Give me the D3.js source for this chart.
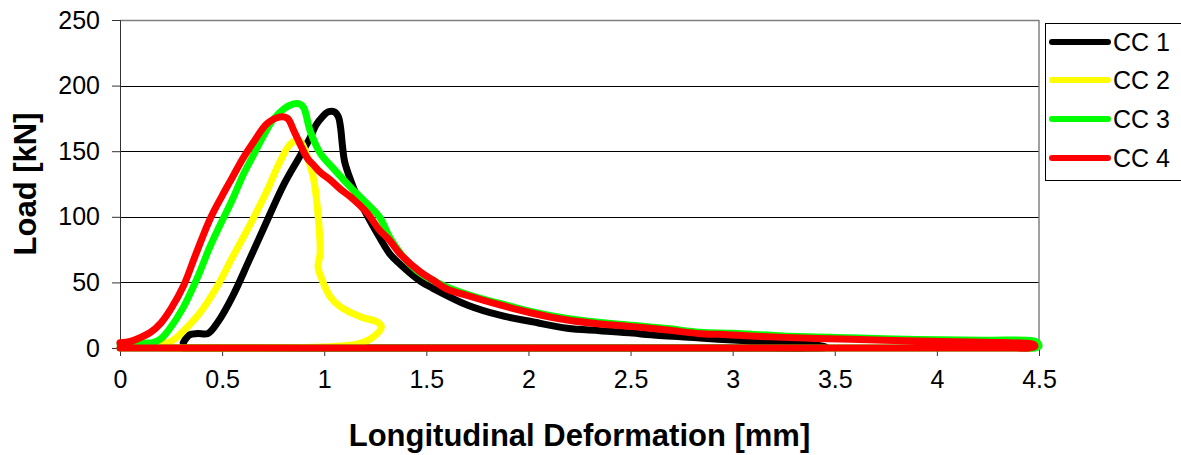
<!DOCTYPE html>
<html>
<head>
<meta charset="utf-8">
<script src="https://cdn.jsdelivr.net/npm/d3@7"></script>
<style>
  html, body { margin: 0; padding: 0; background: #fff; }
  svg { display: block; font-family: Arial, "Liberation Sans", sans-serif; }
</style>
</head>
<body>
<svg id="chart" width="1181" height="455"></svg>
<script>
// Specimen names and line colours
const seriesNames = ["CC 1", "CC 2", "CC 3", "CC 4"];
const seriesColors = ["#000000", "#ffff00", "#00ff00", "#ff0000"];

// Axis ticks
const xTicks = [0, 0.5, 1, 1.5, 2, 2.5, 3, 3.5, 4, 4.5];
const yTicks = [0, 50, 100, 150, 200, 250];

// CC 1: longitudinal deformation [mm] and load [kN]
const cc1Def = [0.31, 0.34, 0.38, 0.43, 0.48, 0.55, 0.63, 0.72, 0.80, 0.88, 0.93, 0.96, 0.99, 1.02, 1.05, 1.07, 1.08, 1.09, 1.10, 1.12, 1.16, 1.20, 1.25, 1.32, 1.37, 1.47, 1.53, 1.70, 1.86, 2.02, 2.19, 2.35, 2.51, 2.60, 2.84, 3.00, 3.20, 3.33, 3.42, 3.46, 3.40, 3.00, 2.00, 1.00, 0.40, 0.31];
const cc1Load = [4, 10, 11, 11, 20, 39, 66, 97, 124, 146, 160, 170, 176, 180, 180, 176, 168, 153, 142, 132, 116, 104, 90, 72, 64, 51, 45.7, 32.8, 25, 20, 15, 13.2, 11.4, 10, 7.6, 6, 4.5, 3.5, 2, 0.5, 0, 0, 0, 0, 0, 0];

// CC 2
const cc2Def = [0.21, 0.25, 0.28, 0.33, 0.39, 0.475, 0.55, 0.64, 0.72, 0.78, 0.83, 0.868, 0.89, 0.917, 0.946, 0.966, 0.98, 0.97, 0.99, 1.03, 1.08, 1.18, 1.26, 1.28, 1.24, 1.18, 1.08, 0.95, 0.60, 0.25, 0.21];
const cc2Load = [3, 5, 8.4, 16, 26.5, 46.7, 69, 95, 120, 141, 154.7, 158.5, 156, 145.7, 130.5, 107.6, 72.4, 61.7, 51.8, 38.9, 31.3, 23.6, 19.8, 16, 8.4, 3.8, 1.5, 0.5, 0, 0, 0];

// CC 3
const cc3Def = [0.00, 0.08, 0.16, 0.20, 0.24, 0.31, 0.38, 0.44, 0.50, 0.55, 0.60, 0.65, 0.70, 0.75, 0.80, 0.85, 0.88, 0.90, 0.93, 0.98, 1.05, 1.12, 1.19, 1.27, 1.32, 1.39, 1.47, 1.60, 1.76, 1.86, 2.02, 2.19, 2.35, 2.51, 2.68, 2.84, 3.00, 3.25, 3.58, 3.90, 4.23, 4.46, 4.49, 4.50, 4.48, 4.40, 3.00, 1.50, 0.05, 0.00];
const cc3Load = [3, 4, 4, 7, 14, 31, 54, 77, 97, 113, 131, 146, 161, 174, 182, 186, 186, 183, 166, 148.6, 136, 124, 113, 100, 84.6, 69, 57, 46.5, 38, 34, 27.5, 22.5, 19.5, 17.3, 14.8, 12, 11.2, 9.2, 7.8, 6.5, 5.9, 5.8, 4.5, 1.5, 0, 0, 0, 0, 0, 0];

// CC 4
const cc4Def = [0.00, 0.05, 0.10, 0.15, 0.20, 0.25, 0.31, 0.37, 0.44, 0.50, 0.55, 0.60, 0.65, 0.72, 0.78, 0.82, 0.85, 0.88, 0.92, 0.95, 0.98, 1.03, 1.08, 1.13, 1.21, 1.27, 1.32, 1.37, 1.47, 1.53, 1.60, 1.70, 1.86, 2.02, 2.19, 2.35, 2.51, 2.68, 2.84, 2.93, 3.25, 3.58, 3.90, 4.23, 4.43, 4.47, 4.48, 4.45, 4.38, 3.00, 1.50, 0.05, 0.00];
const cc4Load = [4, 5, 8, 12, 19, 30, 47, 71, 98, 116, 130, 144, 156, 171, 176, 175, 166, 156, 144, 139, 134, 128, 121, 115, 103, 90, 82, 72, 58, 52, 45, 40, 32.8, 26.5, 21.3, 18.3, 16.3, 13.7, 10.9, 10.4, 8.1, 6.6, 5.3, 4.3, 3.7, 3, 1.2, 0, 0, 0, 0, 0, 0];

const seriesDef = [cc1Def, cc2Def, cc3Def, cc4Def];
const seriesLoad = [cc1Load, cc2Load, cc3Load, cc4Load];

const svg = d3.select("#chart");
const margin = { left: 120, top: 20, right: 1039, bottom: 348 };

const x = d3.scaleLinear().domain([0, 4.5]).range([margin.left, margin.right]);
const y = d3.scaleLinear().domain([0, 250]).range([margin.bottom, margin.top]);

// Horizontal gridlines
svg.append("g")
  .selectAll("line")
  .data(yTicks.filter(d => d > 0 && d < 250))
  .join("line")
  .attr("x1", x(0)).attr("x2", x(4.5))
  .attr("y1", d => Math.round(y(d)) + 0.5).attr("y2", d => Math.round(y(d)) + 0.5)
  .attr("stroke", "#000").attr("stroke-width", 1);

// Plot frame: top and right edges
svg.append("line")
  .attr("x1", x(0)).attr("x2", x(4.5)).attr("y1", y(250) + 0.5).attr("y2", y(250) + 0.5)
  .attr("stroke", "#808080").attr("stroke-width", 1.5);
svg.append("line")
  .attr("x1", x(4.5)).attr("x2", x(4.5)).attr("y1", y(250)).attr("y2", y(0))
  .attr("stroke", "#808080").attr("stroke-width", 1.5);

// Y axis
const yAxis = d3.axisLeft(y).tickValues(yTicks).tickSize(8).tickPadding(12).tickFormat(d3.format("d"));
const gy = svg.append("g").attr("transform", `translate(${x(0)},0)`).call(yAxis);
gy.select(".domain").attr("stroke", "#333");
gy.selectAll(".tick line").attr("stroke", "#333");
gy.selectAll(".tick text").attr("font-size", 25).attr("fill", "#000")
  .attr("font-family", "Arial, 'Liberation Sans', sans-serif");

// X axis
const xAxis = d3.axisBottom(x).tickValues(xTicks).tickSize(8).tickPadding(14).tickFormat(d => String(d));
const gx = svg.append("g").attr("transform", `translate(0,${y(0)})`).call(xAxis);
gx.select(".domain").attr("stroke", "#333");
gx.selectAll(".tick line").attr("stroke", "#333");
gx.selectAll(".tick text").attr("font-size", 25).attr("fill", "#000")
  .attr("font-family", "Arial, 'Liberation Sans', sans-serif");

// Load-deformation curves
const line = d3.line()
  .x(d => x(d[0]))
  .y(d => y(d[1]))
  .curve(d3.curveCatmullRom.alpha(0.5));

seriesNames.forEach((name, i) => {
  const pts = seriesDef[i].map((v, k) => [v, seriesLoad[i][k]]);
  svg.append("path")
    .datum(pts)
    .attr("d", line)
    .attr("fill", "none")
    .attr("stroke", seriesColors[i])
    .attr("stroke-width", 7)
    .attr("stroke-linejoin", "round")
    .attr("stroke-linecap", "round");
});

// Axis titles
svg.append("text")
  .attr("x", (x(0) + x(4.5)) / 2).attr("y", 446)
  .attr("text-anchor", "middle")
  .attr("font-size", 31).attr("font-weight", "bold")
  .text("Longitudinal Deformation [mm]");

svg.append("text")
  .attr("transform", `translate(36,${(y(0) + y(250)) / 2}) rotate(-90)`)
  .attr("text-anchor", "middle")
  .attr("font-size", 31).attr("font-weight", "bold")
  .text("Load [kN]");

// Legend
const legend = svg.append("g");
legend.append("rect")
  .attr("x", 1045.5).attr("y", 23.5).attr("width", 140).attr("height", 157)
  .attr("fill", "#fff").attr("stroke", "#000").attr("stroke-width", 1);
const rows = [42, 80, 119, 158];
seriesNames.forEach((name, i) => {
  legend.append("line")
    .attr("x1", 1052).attr("x2", 1108)
    .attr("y1", rows[i]).attr("y2", rows[i])
    .attr("stroke", seriesColors[i]).attr("stroke-width", 6)
    .attr("stroke-linecap", "round");
  legend.append("text")
    .attr("x", 1113).attr("y", rows[i] + 9)
    .attr("font-size", 25)
    .text(name);
});
</script>
</body>
</html>
